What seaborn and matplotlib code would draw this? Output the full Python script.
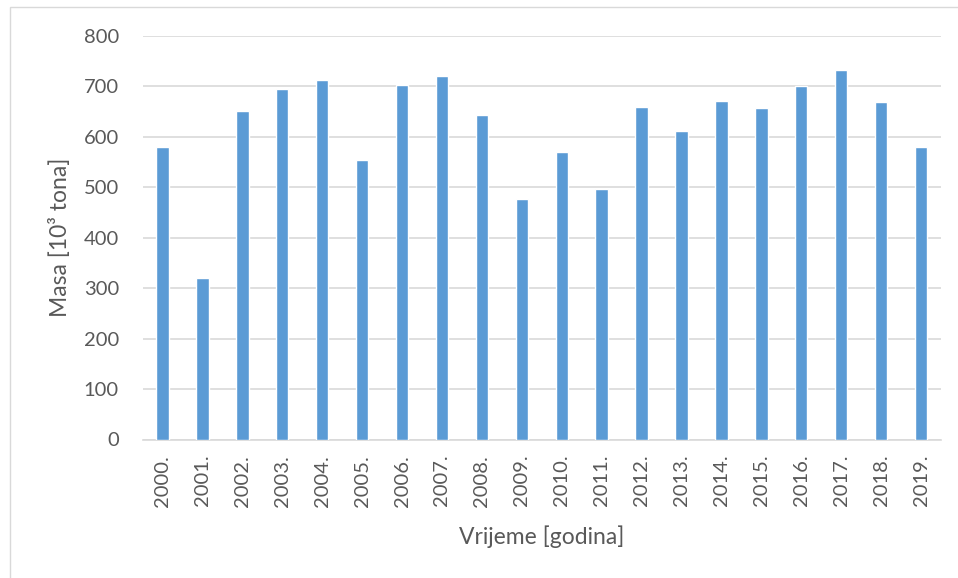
import matplotlib
matplotlib.use("Agg")
import matplotlib.pyplot as plt
import seaborn as sns
import pandas as pd
from matplotlib.patches import Rectangle

years = ["2000.", "2001.", "2002.", "2003.", "2004.", "2005.", "2006.", "2007.", "2008.", "2009.",
         "2010.", "2011.", "2012.", "2013.", "2014.", "2015.", "2016.", "2017.", "2018.", "2019."]
masa = [580, 320, 652, 695, 713, 554, 703, 720, 644, 476,
        571, 497, 660, 611, 671, 658, 701, 732, 669, 580]
yticks = [0, 100, 200, 300, 400, 500, 600, 700, 800]

sns.set_theme(style="white")
plt.rcParams['font.family'] = ['Lato', 'DejaVu Sans']

df = pd.DataFrame({"godina": years, "masa": masa})

fig = plt.figure(figsize=(9.58, 5.78), dpi=100)
ax = fig.add_axes([142.5/958, 1 - 439.5/578, (941 - 142.5)/958, (439.5 - 36)/578])

sns.barplot(data=df, x="godina", y="masa", color="#5b9bd5", saturation=1,
            width=0.31, ax=ax, zorder=3)

ax.set_ylim(0, 800)
ax.set_xlim(-0.5, len(years) - 0.5)
ax.set_yticks(yticks)
ax.yaxis.grid(True, color="#d9d9d9", linewidth=1.2, zorder=0)
ax.xaxis.grid(False)
for s in ["top", "right", "left"]:
    ax.spines[s].set_visible(False)
ax.spines["bottom"].set_color("#d9d9d9")
ax.spines["bottom"].set_linewidth(1.2)
ax.tick_params(axis="both", length=0, colors="#595959", labelsize=14.5)
ax.tick_params(axis="y", pad=17)
ax.tick_params(axis="x", pad=11)
for lbl in ax.get_xticklabels():
    lbl.set_rotation(90)

ax.set_xlabel("Vrijeme [godina]", fontsize=16.5, color="#595959")
ax.set_ylabel("Masa [10³ tona]", fontsize=16.5, color="#595959")
ax.yaxis.label.set_va("center")
ax.xaxis.label.set_va("center")
ax.yaxis.set_label_coords((60 - 142.5) / 798.5, 0.5)
ax.xaxis.set_label_coords(0.5, (439.5 - 537) / 403.5)

fig.patches.append(Rectangle((10/958, -0.1), 1.2, 1 - 7/578 + 0.1, transform=fig.transFigure,
                             fill=False, edgecolor="#d9d9d9", linewidth=1.0))

fig.savefig("out.png", dpi=100)
